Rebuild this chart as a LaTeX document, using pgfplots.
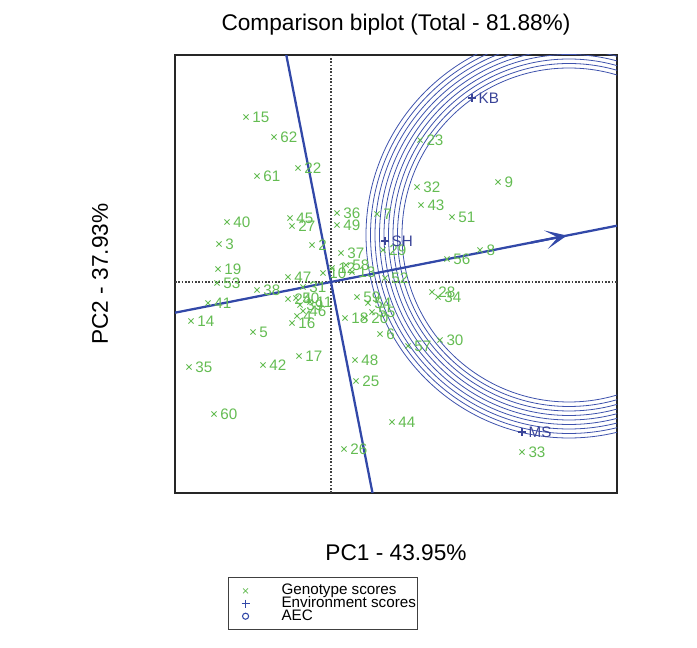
\documentclass[border=0pt]{standalone}
\usepackage{fontspec}
\setmainfont{Liberation Sans}
\usepackage{pgfplots}
\usepackage{pgfplotstable}
\pgfplotsset{compat=1.18}
\usetikzlibrary{arrows.meta}
\definecolor{gen}{RGB}{100,188,82}
\definecolor{env}{RGB}{50,72,168}
\definecolor{ring}{RGB}{62,82,172}
\definecolor{envtxt}{RGB}{58,68,152}

\pgfplotstableread{
x y label
-85 165 15
-57 145 62
-74 106 61
-33 114 22
-104 60 40
-41 64 45
-39 56 27
6 69 36
6 57 49
-112 38 3
-19 37 2
46 68 7
10 29 37
-113 13 19
-114 -1 53
-74 -8 38
-43 5 47
-8 9 10
1 14 12
15 17 58
21 10 13
-123 -21 41
-140 -39 14
-78 -50 5
-142 -85 35
-68 -83 42
-32 -74 17
-117 -132 60
24 -78 48
25 -99 25
61 -140 44
13 -167 26
-43 -17 24
-35 -16 50
-28 -5 31
-31 -23 39
-34 -34 4
-28 -29 46
-39 -41 16
-21 -20 11
14 -36 18
34 -36 20
26 -15 59
37 -21 54
41 -30 55
49 -52 6
52 32 29
54 4 52
116 23 56
149 32 8
89 142 23
86 95 32
90 77 43
121 65 51
167 100 9
191 -170 33
101 -10 28
107 -15 34
109 -58 30
77 -64 57
}\gentab

\pgfplotstableread{
x y label
141 184 KB
54 41 SH
191 -150 MS
}\envtab

\begin{document}
\begin{tikzpicture}
\begin{axis}[
  at={(0,0)}, anchor=south west,
  scale only axis, width=331.5pt, height=328.5pt,
  xmin=-156, xmax=286, ymin=-211, ymax=227,
  axis line style={line width=1.4pt, black!85},
  ticks=none,
  clip=true,
  title={Comparison biplot (Total - 81.88\%)},
  title style={at={(axis description cs:0.5,1.0518)}, anchor=center, inner sep=0pt, font=\fontsize{17}{20}\selectfont},
  xlabel={PC1 - 43.95\%},
  xlabel style={at={(axis description cs:0.5,-0.137)}, anchor=center, inner sep=0pt, font=\fontsize{17}{20}\selectfont},
  ylabel={PC2 - 37.93\%},
  ylabel style={at={(axis description cs:-0.1697,0.5)}, anchor=center, inner sep=0pt, font=\fontsize{17}{20}\selectfont},
  legend style={at={(0.335,-0.192)}, anchor=north, draw=black!75, line width=0.8pt,
    inner xsep=1.25pt, inner ysep=5.2pt, row sep=0pt,
    nodes={inner sep=0pt, text height=7.6pt, text depth=1.9pt, font=\fontsize{11.4}{12}\selectfont},
    /tikz/every odd column/.style={column sep=0pt}},
  legend cell align=left,
  legend image code/.code={\path[draw=none, fill=none] (0pt,0pt) -- (38.5pt,0pt); \draw[#1] plot[only marks] coordinates {(11.5pt,0pt)};},
]
% reference dotted lines
\addplot[forget plot, black!75, line width=0.8pt, dash pattern=on 1.2pt off 1.3pt] coordinates {(-156,0) (286,0)};
\addplot[forget plot, black!75, line width=0.8pt, dash pattern=on 1.2pt off 1.3pt] coordinates {(0,-211) (0,227)};
% concentric circles around the ideal environment
\draw[ring, line width=0.6pt] (axis cs:238,47) circle[radius=167];
\draw[ring, line width=0.6pt] (axis cs:238,47) circle[radius=171.5];
\draw[ring, line width=0.6pt] (axis cs:238,47) circle[radius=176];
\draw[ring, line width=0.6pt] (axis cs:238,47) circle[radius=180.5];
\draw[ring, line width=0.6pt] (axis cs:238,47) circle[radius=185];
\draw[ring, line width=0.6pt] (axis cs:238,47) circle[radius=189.5];
\draw[ring, line width=0.6pt] (axis cs:238,47) circle[radius=194];
\draw[ring, line width=0.6pt] (axis cs:238,47) circle[radius=198.5];
\draw[ring, line width=0.6pt] (axis cs:238,47) circle[radius=203];
% genotype scores
\addplot[forget plot, only marks, mark=x, mark size=2.7pt, gen, mark options={line width=0.55pt},
  nodes near coords, point meta=explicit symbolic,
  every node near coord/.append style={anchor=west, inner sep=0pt, xshift=4.6pt, text=gen, font=\fontsize{11.4}{12}\selectfont}]
  table[meta=label] {\gentab};
% environment scores
\addplot[forget plot, only marks, mark=+, mark size=3pt, envtxt, mark options={line width=0.9pt},
  nodes near coords, point meta=explicit symbolic,
  every node near coord/.append style={anchor=west, inner sep=0pt, xshift=4.6pt, text=envtxt, font=\fontsize{11.4}{12}\selectfont}]
  table[meta=label] {\envtab};
% AEC axes
\addplot[forget plot, env, line width=1.7pt] coordinates {(-156,-30.7) (286,56.3)};
\addplot[forget plot, env, line width=1.7pt] coordinates {(-44.7,227) (41.5,-211)};
\draw[env, line width=1.7pt, -{Stealth[length=16pt,width=14pt,inset=9pt]}] (axis cs:200,39.36) -- (axis cs:236,46.45);
% legend
\addlegendimage{only marks, mark=x, mark size=2.6pt, gen, mark options={line width=0.55pt}}
\addlegendentry{Genotype scores}
\addlegendimage{only marks, mark=+, mark size=3pt, env, mark options={line width=0.9pt}}
\addlegendentry{Environment scores}
\addlegendimage{only marks, mark=o, mark size=2.3pt, env, mark options={line width=0.8pt}}
\addlegendentry{AEC}
\end{axis}
\pgfresetboundingbox
\path (-131.25pt,-116.25pt) rectangle (391.5pt,369.75pt);
\end{tikzpicture}
\end{document}
